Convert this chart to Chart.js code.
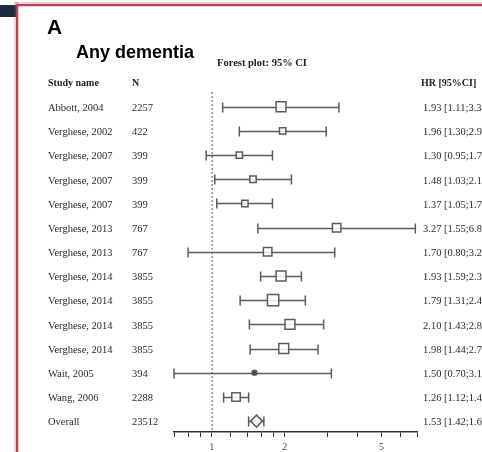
<!DOCTYPE html>
<html>
<head>
<meta charset="utf-8">
<script src="https://cdn.jsdelivr.net/npm/chart.js@4"></script>
<style>
  html, body { margin: 0; padding: 0; background: #ffffff; }
  #wrap { position: relative; width: 482px; height: 452px; overflow: hidden; }
  canvas { display: block; }
</style>
</head>
<body>
<div id="wrap"><canvas id="c" width="482" height="452"></canvas></div>
<script>
// Studies in the meta-analysis of any dementia
const studies = [
  'Abbott, 2004', 'Verghese, 2002', 'Verghese, 2007', 'Verghese, 2007', 'Verghese, 2007',
  'Verghese, 2013', 'Verghese, 2013', 'Verghese, 2014', 'Verghese, 2014', 'Verghese, 2014',
  'Verghese, 2014', 'Wait, 2005', 'Wang, 2006', 'Overall'
];
const sampleSizes = [2257, 422, 399, 399, 399, 767, 767, 3855, 3855, 3855, 3855, 394, 2288, 23512];
// Hazard ratios with 95% confidence limits
const hazardRatio = [1.93, 1.96, 1.30, 1.48, 1.37, 3.27, 1.70, 1.93, 1.79, 2.10, 1.98, 1.50, 1.26, 1.53];
const ciLower     = [1.11, 1.30, 0.95, 1.03, 1.05, 1.55, 0.80, 1.59, 1.31, 1.43, 1.44, 0.70, 1.12, 1.42];
const ciUpper     = [3.34, 2.96, 1.78, 2.13, 1.78, 6.89, 3.21, 2.34, 2.43, 2.89, 2.74, 3.11, 1.42, 1.64];
// Axis tick values and the ones that carry a label
const axisTicks   = [0.7, 0.8, 0.9, 1, 1.2, 1.4, 1.6, 1.8, 2, 3, 4, 5, 6, 7];
const labeledTicks = [1, 2, 5];

// Marker appearance per row (square half-size, style)
const markerRadius = [7, 4.5, 4.5, 4.5, 4.5, 6, 6, 7, 8, 7, 7, 2.5, 6, 6];
const markerStyle  = studies.map((s, i) => i === 13 ? 'rectRot' : (i === 11 ? 'circle' : 'rect'));
const markerFill   = studies.map((s, i) => i === 11 ? '#444' : 'rgba(255,255,255,0.85)');

const SERIF = '"Liberation Serif", "DejaVu Serif", serif';
const SANS = '"Liberation Sans", Arial, sans-serif';

const frame = {
  id: 'frame',
  beforeDraw(chart) {
    const ctx = chart.ctx;
    ctx.save();
    ctx.fillStyle = '#ffffff';
    ctx.fillRect(0, 0, chart.width, chart.height);
    // dark tab and red outline
    ctx.fillStyle = '#1c2b40';
    ctx.fillRect(0, 5, 17, 12);
    ctx.fillStyle = 'rgba(200,70,80,0.25)';
    ctx.fillRect(15, 2, chart.width, 5);
    ctx.fillRect(14, 2, 5, chart.height);
    ctx.fillStyle = '#c0414c';
    ctx.fillRect(16, 4, chart.width, 2);
    ctx.fillRect(16, 4, 2, chart.height);
    ctx.restore();
  }
};

const whiskers = {
  id: 'whiskers',
  beforeDatasetsDraw(chart) {
    const { ctx, chartArea, scales: { x, y } } = chart;
    ctx.save();
    // reference line at HR = 1
    const x1 = x.getPixelForValue(1);
    ctx.strokeStyle = '#555';
    ctx.lineWidth = 1;
    ctx.setLineDash([2, 2]);
    ctx.beginPath();
    ctx.moveTo(x1 + 0.5, chartArea.top);
    ctx.lineTo(x1 + 0.5, chartArea.bottom);
    ctx.stroke();
    ctx.setLineDash([]);
    ctx.strokeStyle = '#5c5c5c';
    ctx.lineWidth = 1.5;
    for (let i = 0; i < hazardRatio.length; i++) {
      const yy = Math.round(y.getPixelForValue(i)) + 0.5;
      const a = x.getPixelForValue(ciLower[i]);
      const b = x.getPixelForValue(ciUpper[i]);
      ctx.beginPath();
      ctx.moveTo(a, yy); ctx.lineTo(b, yy);
      ctx.moveTo(a, yy - 5); ctx.lineTo(a, yy + 5);
      ctx.moveTo(b, yy - 5); ctx.lineTo(b, yy + 5);
      ctx.stroke();
    }
    ctx.restore();
  }
};

const tableText = {
  id: 'tableText',
  afterDraw(chart) {
    const { ctx, scales: { y } } = chart;
    ctx.save();
    ctx.fillStyle = '#000';
    ctx.textBaseline = 'alphabetic';
    ctx.font = 'bold 21px ' + SANS;
    ctx.fillText('A', 47, 34);
    ctx.font = 'bold 18px ' + SANS;
    ctx.fillText('Any dementia', 76, 58);
    ctx.font = 'bold 10.5px ' + SERIF;
    ctx.fillStyle = '#222';
    ctx.fillText('Forest plot: 95% CI', 217, 66);

    ctx.textBaseline = 'middle';
    const hy = y.getPixelForValue(-1) + 0.5;
    ctx.font = 'bold 10px ' + SERIF;
    ctx.fillText('Study name', 48, hy);
    ctx.fillText('N', 132, hy);
    ctx.fillText('HR [95%CI]', 421, hy);

    ctx.font = '10.5px ' + SERIF;
    ctx.fillStyle = '#2a2a2a';
    for (let i = 0; i < studies.length; i++) {
      const yy = y.getPixelForValue(i) + 1.5;
      ctx.fillText(studies[i], 48, yy);
      ctx.fillText(String(sampleSizes[i]), 132, yy);
      ctx.fillText(hazardRatio[i].toFixed(2) + ' [' + ciLower[i].toFixed(2) + ';' + ciUpper[i].toFixed(2) + ']', 423, yy);
    }
    ctx.restore();
  }
};

new Chart(document.getElementById('c'), {
  type: 'scatter',
  data: {
    datasets: [{
      data: hazardRatio.map((v, i) => ({ x: v, y: i })),
      pointStyle: markerStyle,
      pointRadius: markerRadius,
      pointHoverRadius: markerRadius,
      backgroundColor: markerFill,
      borderColor: '#5c5c5c',
      borderWidth: 1.5
    }]
  },
  options: {
    responsive: false,
    animation: false,
    events: [],
    layout: { padding: { left: 174, right: 65, top: 92, bottom: 0 } },
    plugins: { legend: { display: false }, tooltip: { enabled: false } },
    scales: {
      x: {
        type: 'logarithmic',
        min: 0.7,
        max: 7,
        afterBuildTicks: s => { s.ticks = axisTicks.map(v => ({ value: v })); },
        afterFit: s => { s.height = 20; },
        grid: { drawOnChartArea: false, drawTicks: true, tickLength: 5, color: '#333', lineWidth: 1 },
        border: { display: true, color: '#333', width: 1.5 },
        ticks: {
          autoSkip: false,
          maxRotation: 0,
          padding: 4,
          color: '#444',
          font: { family: SERIF, size: 10 },
          callback: v => labeledTicks.includes(v) ? String(v) : ''
        }
      },
      y: {
        type: 'linear',
        display: false,
        reverse: true,
        min: -0.61,
        max: 13.45
      }
    }
  },
  plugins: [frame, whiskers, tableText]
});
</script>
</body>
</html>
